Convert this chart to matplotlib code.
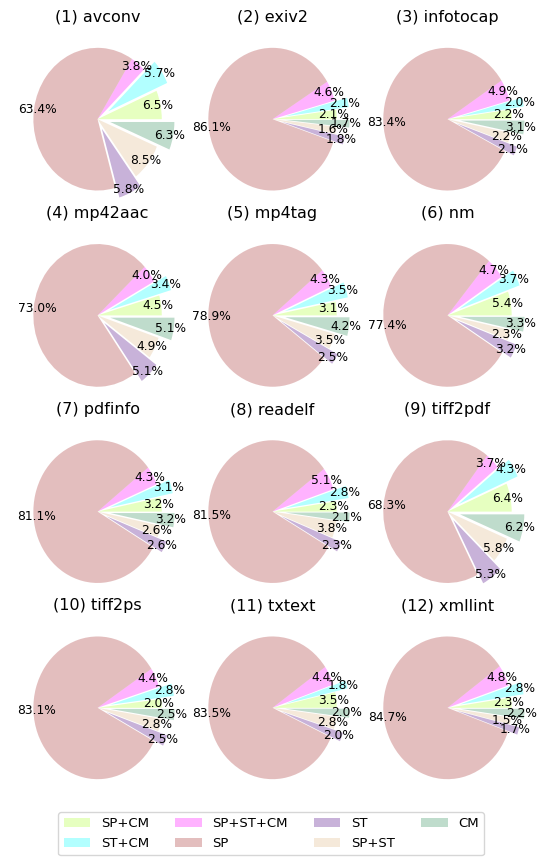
import matplotlib.pyplot as plt
import numpy as np

programs = ["avconv", "exiv2", "infotocap", "mp42aac", "mp4tag", "nm",
            "pdfinfo", "readelf", "tiff2pdf", "tiff2ps", "txtext", "xmllint"]
labels = ["SP+CM", "ST+CM", "SP+ST+CM", "SP", "ST", "SP+ST", "CM"]

# percentages per category, one value per program
sp_cm    = [6.5, 2.1, 2.2, 4.5, 3.1, 5.4, 3.2, 2.3, 6.4, 2.0, 3.5, 2.3]
st_cm    = [5.7, 2.1, 2.0, 3.4, 3.5, 3.7, 3.1, 2.8, 4.3, 2.8, 1.8, 2.8]
sp_st_cm = [3.8, 4.6, 4.9, 4.0, 4.3, 4.7, 4.3, 5.1, 3.7, 4.4, 4.4, 4.8]
sp       = [63.4, 86.1, 83.4, 73.0, 78.9, 77.4, 81.1, 81.5, 68.3, 83.1, 83.5, 84.7]
st       = [5.8, 1.8, 2.1, 5.1, 2.5, 3.2, 2.6, 2.3, 5.3, 2.5, 2.0, 1.7]
sp_st    = [8.5, 1.6, 2.2, 4.9, 3.5, 2.3, 2.6, 3.8, 5.8, 2.8, 2.8, 1.5]
cm       = [6.3, 1.7, 3.1, 5.1, 4.2, 3.3, 3.2, 2.1, 6.2, 2.5, 2.0, 2.2]

data = np.array([sp_cm, st_cm, sp_st_cm, sp, st, sp_st, cm]).transpose()

colors = ["greenyellow", "cyan", "magenta", "brown", "indigo", "burlywood", "seagreen"]
explode = [0, 0.2, 0, 0, 0.15, 0, 0.2]


def make_autopct(vals):
    # show the rounded values as given, not re-normalised ones
    it = iter(vals)
    return lambda pct: f"{next(it):.1f}%"


fig, axs = plt.subplots(4, 3, figsize=(5.48, 8.57))
fig.subplots_adjust(left=0.0316, right=0.963, top=0.965, bottom=0.070,
                    wspace=0.09, hspace=0.10)

for i, ax in enumerate(axs.flat):
    wedges, texts, autotexts = ax.pie(data[i], explode=explode, colors=colors,
                                      autopct=make_autopct(data[i]), pctdistance=0.95,
                                      wedgeprops=dict(alpha=0.3),
                                      textprops=dict(fontsize=8.8))
    # old-style pie: not forced to be circular
    ax.set_aspect('auto')
    ax.set_xlim(-1.25, 1.25)
    ax.set_ylim(-1.25, 1.25)
    ax.set_title(f"({i + 1}) {programs[i]}", fontsize=11.5)

fig.legend(wedges, labels, loc='lower center', ncol=4,
           bbox_to_anchor=(0.495, 0.002), borderaxespad=0, fontsize=9.5)

fig.savefig("out.png", dpi=100)
